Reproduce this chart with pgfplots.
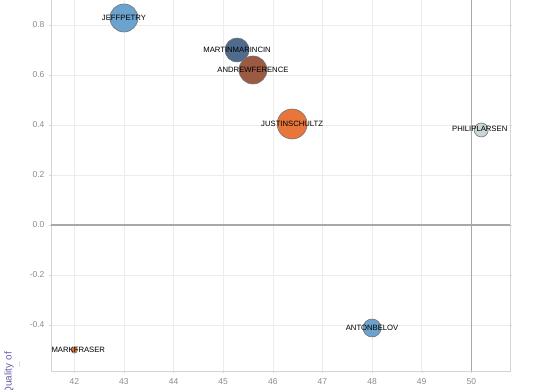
\documentclass[border=0pt]{standalone}
\usepackage{fontspec}
\setmainfont{Liberation Sans}
\usepackage{pgfplots}
\pgfplotsset{compat=1.18}
\definecolor{cJeff}{HTML}{6BA3CE}
\definecolor{cMartin}{HTML}{4F6B8E}
\definecolor{cAndrew}{HTML}{9C5A42}
\definecolor{cJustin}{HTML}{E8763A}
\definecolor{cPhilip}{HTML}{C8D6D8}
\definecolor{cAnton}{HTML}{6BA3CE}
\definecolor{cMark}{HTML}{E07A3A}
\definecolor{tickgray}{HTML}{8A8A8A}
\definecolor{gridgray}{HTML}{ECECEC}
\definecolor{axisgray}{HTML}{D4D4D4}
\definecolor{refgray}{HTML}{A8A8A8}
\definecolor{labpurple}{HTML}{6E5AA8}
\definecolor{labdots}{HTML}{D9904A}
\begin{document}
\begin{tikzpicture}
\begin{axis}[
  name=ax,
  scale only axis, width=459pt, height=383.5pt,
  xmin=41.53, xmax=50.78, ymin=-0.584, ymax=0.95,
  xtick={42,43,44,45,46,47,48,49,50},
  ytick={-0.4,-0.2,0,0.2,0.4,0.6,0.8},
  y tick label style={/pgf/number format/fixed, /pgf/number format/fixed zerofill, /pgf/number format/precision=1, xshift=-1pt},
  /pgf/number format/assume math mode=true,
  ticklabel style={font=\fontsize{8.5}{10}\selectfont, text=tickgray},
  x tick label style={yshift=-2pt},
  tick align=outside, major tick length=2pt,
  tick style={axisgray},
  axis line style={axisgray},
  grid=major, grid style={gridgray, line width=0.6pt},
  clip=true,
]
\addplot[refgray, line width=1.4pt, forget plot] coordinates {(41.53,0) (50.78,0)};
\addplot[refgray, line width=1.4pt, forget plot] coordinates {(50,-0.584) (50,0.95)};

\addplot[only marks, mark=*, mark size=14, mark options={fill=cJeff, draw=black!55, line width=0.6pt}] coordinates {(43.0,0.828)};
\addplot[only marks, mark=*, mark size=12, mark options={fill=cMartin, draw=black!55, line width=0.6pt}] coordinates {(45.28,0.70)};
\addplot[only marks, mark=*, mark size=14, mark options={fill=cAndrew, draw=black!55, line width=0.6pt}] coordinates {(45.6,0.62)};
\addplot[only marks, mark=*, mark size=15, mark options={fill=cJustin, draw=black!55, line width=0.6pt}] coordinates {(46.39,0.404)};
\addplot[only marks, mark=*, mark size=7, mark options={fill=cPhilip, draw=black!55, line width=0.6pt}] coordinates {(50.2,0.38)};
\addplot[only marks, mark=*, mark size=9, mark options={fill=cAnton, draw=black!55, line width=0.6pt}] coordinates {(48.0,-0.412)};
\addplot[only marks, mark=*, mark size=3.2, mark options={fill=cMark, draw=black!55, line width=0.5pt}] coordinates {(42.0,-0.50)};

\addplot[draw=none, mark=none, nodes near coords, point meta=explicit symbolic,
  nodes near coords style={anchor=center, inner sep=0pt, text=black, font=\fontsize{7.7}{9}\selectfont}]
  table[meta=label, row sep=\\] {
  x y label\\
  43.0 0.828 JEFFPETRY\\
  45.28 0.70 MARTINMARINCIN\\
  45.6 0.62 ANDREWFERENCE\\
  46.39 0.404 JUSTINSCHULTZ\\
  50.17 0.384 PHILIPLARSEN\\
  48.0 -0.41 ANTONBELOV\\
  42.08 -0.50 MARKFRASER\\
  };
\end{axis}
\node[rotate=90, anchor=south east, inner sep=0pt, text=labpurple, font=\fontsize{10}{12}\selectfont] at ([shift={(-37pt,19pt)}]ax.south west) {Quality of};
\node[rotate=90, anchor=south east, inner sep=0pt, text=labdots, font=\fontsize{8}{10}\selectfont] at ([shift={(-30.5pt,10pt)}]ax.south west) {...};
\pgfresetboundingbox
\path[use as bounding box] ([shift={(-51pt,-19pt)}]ax.south west) rectangle ([shift={(491pt,371pt)}]ax.south west);
\end{tikzpicture}
\end{document}
